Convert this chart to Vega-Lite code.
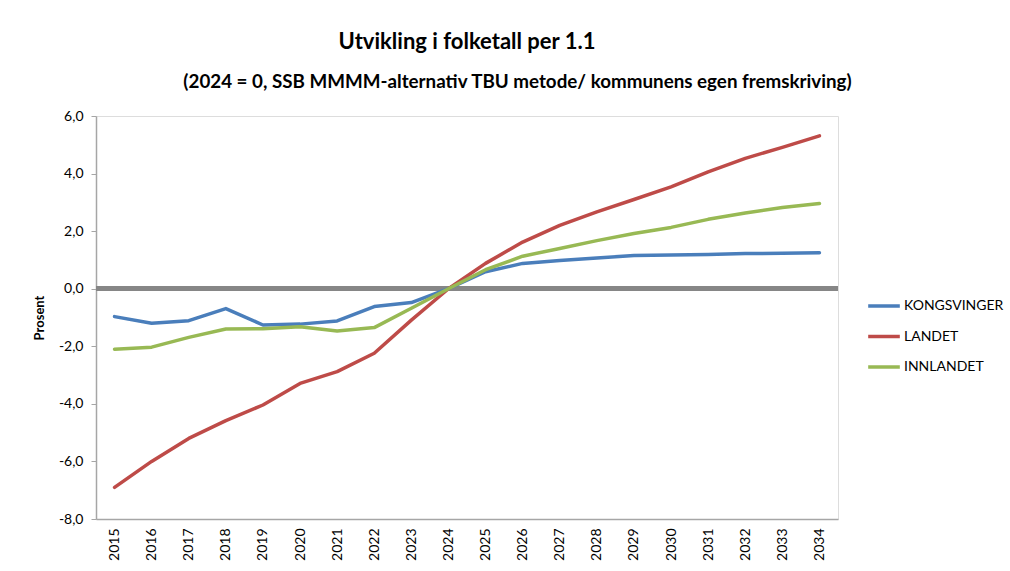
{
  "$schema": "https://vega.github.io/schema/vega-lite/v6.json",
  "width": 742,
  "height": 403,
  "autosize": "none",
  "padding": {"left": 96, "top": 116, "right": 172, "bottom": 52},
  "background": "white",
  "title": {
    "text": "Utvikling i folketall per 1.1",
    "anchor": "middle",
    "frame": "group",
    "font": "Lato",
    "fontSize": 22,
    "fontWeight": "bold",
    "color": "#000000",
    "offset": 18
  },
  "data": {
    "values": [
      {"year": "2015", "series": "KONGSVINGER", "value": -0.97},
      {"year": "2016", "series": "KONGSVINGER", "value": -1.2},
      {"year": "2017", "series": "KONGSVINGER", "value": -1.11},
      {"year": "2018", "series": "KONGSVINGER", "value": -0.69},
      {"year": "2019", "series": "KONGSVINGER", "value": -1.26},
      {"year": "2020", "series": "KONGSVINGER", "value": -1.23},
      {"year": "2021", "series": "KONGSVINGER", "value": -1.12},
      {"year": "2022", "series": "KONGSVINGER", "value": -0.62},
      {"year": "2023", "series": "KONGSVINGER", "value": -0.48},
      {"year": "2024", "series": "KONGSVINGER", "value": 0},
      {"year": "2025", "series": "KONGSVINGER", "value": 0.59},
      {"year": "2026", "series": "KONGSVINGER", "value": 0.88},
      {"year": "2027", "series": "KONGSVINGER", "value": 0.98},
      {"year": "2028", "series": "KONGSVINGER", "value": 1.07},
      {"year": "2029", "series": "KONGSVINGER", "value": 1.15},
      {"year": "2030", "series": "KONGSVINGER", "value": 1.17},
      {"year": "2031", "series": "KONGSVINGER", "value": 1.19},
      {"year": "2032", "series": "KONGSVINGER", "value": 1.22},
      {"year": "2033", "series": "KONGSVINGER", "value": 1.23},
      {"year": "2034", "series": "KONGSVINGER", "value": 1.25},
      {"year": "2015", "series": "LANDET", "value": -6.9},
      {"year": "2016", "series": "LANDET", "value": -6.0},
      {"year": "2017", "series": "LANDET", "value": -5.2},
      {"year": "2018", "series": "LANDET", "value": -4.58},
      {"year": "2019", "series": "LANDET", "value": -4.04},
      {"year": "2020", "series": "LANDET", "value": -3.29},
      {"year": "2021", "series": "LANDET", "value": -2.88},
      {"year": "2022", "series": "LANDET", "value": -2.24},
      {"year": "2023", "series": "LANDET", "value": -1.09},
      {"year": "2024", "series": "LANDET", "value": 0},
      {"year": "2025", "series": "LANDET", "value": 0.88},
      {"year": "2026", "series": "LANDET", "value": 1.62},
      {"year": "2027", "series": "LANDET", "value": 2.2},
      {"year": "2028", "series": "LANDET", "value": 2.67},
      {"year": "2029", "series": "LANDET", "value": 3.1},
      {"year": "2030", "series": "LANDET", "value": 3.54},
      {"year": "2031", "series": "LANDET", "value": 4.06},
      {"year": "2032", "series": "LANDET", "value": 4.53},
      {"year": "2033", "series": "LANDET", "value": 4.91},
      {"year": "2034", "series": "LANDET", "value": 5.31},
      {"year": "2015", "series": "INNLANDET", "value": -2.1},
      {"year": "2016", "series": "INNLANDET", "value": -2.03},
      {"year": "2017", "series": "INNLANDET", "value": -1.69},
      {"year": "2018", "series": "INNLANDET", "value": -1.4},
      {"year": "2019", "series": "INNLANDET", "value": -1.39},
      {"year": "2020", "series": "INNLANDET", "value": -1.32},
      {"year": "2021", "series": "INNLANDET", "value": -1.47},
      {"year": "2022", "series": "INNLANDET", "value": -1.35},
      {"year": "2023", "series": "INNLANDET", "value": -0.68},
      {"year": "2024", "series": "INNLANDET", "value": 0},
      {"year": "2025", "series": "INNLANDET", "value": 0.66},
      {"year": "2026", "series": "INNLANDET", "value": 1.13},
      {"year": "2027", "series": "INNLANDET", "value": 1.4},
      {"year": "2028", "series": "INNLANDET", "value": 1.67},
      {"year": "2029", "series": "INNLANDET", "value": 1.92},
      {"year": "2030", "series": "INNLANDET", "value": 2.13},
      {"year": "2031", "series": "INNLANDET", "value": 2.41},
      {"year": "2032", "series": "INNLANDET", "value": 2.63},
      {"year": "2033", "series": "INNLANDET", "value": 2.82},
      {"year": "2034", "series": "INNLANDET", "value": 2.96}
    ]
  },
  "resolve": {"scale": {"x": "independent"}, "axis": {"x": "independent"}},
  "layer": [
    {
      "mark": {"type": "rule", "color": "#868686", "strokeWidth": 4.5},
      "encoding": {
        "x": {
          "datum": 0,
          "type": "quantitative",
          "scale": {"domain": [0, 1], "nice": false, "zero": false},
          "axis": {
            "orient": "top",
            "title": "(2024 = 0, SSB MMMM-alternativ TBU metode/ kommunens egen fremskriving)",
            "titleFont": "Lato",
            "titleFontSize": 18.8,
            "titleFontWeight": "bold",
            "titleColor": "#000000",
            "titleX": 421,
            "titleAnchor": "middle",
            "titlePadding": 25,
            "labels": false,
            "ticks": false,
            "domain": false,
            "grid": false
          }
        },
        "x2": {"datum": 1},
        "y": {"datum": 0, "type": "quantitative"}
      }
    },
    {
      "mark": {"type": "line", "strokeWidth": 3.5, "strokeCap": "round", "strokeJoin": "round"},
      "encoding": {
        "x": {
          "field": "year",
          "type": "ordinal",
          "title": null,
          "axis": {
            "orient": "bottom",
            "labelAngle": 270,
            "labelFont": "Lato",
            "labelFontSize": 14,
            "labelColor": "#000000",
            "labelPadding": 9,
            "ticks": false,
            "domainColor": "#a6a6a6",
            "domainWidth": 1.5,
            "grid": false
          }
        },
        "y": {
          "field": "value",
          "type": "quantitative",
          "title": "Prosent",
          "scale": {"domain": [-8, 6], "nice": false, "zero": false},
          "axis": {
            "values": [-8, -6, -4, -2, 0, 2, 4, 6],
            "labelExpr": "replace(replace(format(datum.value, '.1f'), '.', ','), '\u2212', '-')",
            "labelFont": "Lato",
            "labelFontSize": 14,
            "labelColor": "#000000",
            "labelPadding": 8,
            "tickSize": 5,
            "tickColor": "#a6a6a6",
            "domainColor": "#a6a6a6",
            "domainWidth": 1.5,
            "gridColor": "#bdbdbd",
            "gridWidth": 1.5,
            "titleFont": "Lato",
            "titleFontSize": 13,
            "titleFontWeight": "bold",
            "titleColor": "#000000",
            "titlePadding": 12
          }
        },
        "color": {
          "field": "series",
          "type": "nominal",
          "scale": {
            "domain": ["KONGSVINGER", "LANDET", "INNLANDET"],
            "range": ["#4a7ebb", "#be4b48", "#98b954"]
          },
          "legend": {
            "title": null,
            "orient": "none",
            "legendX": 770,
            "legendY": 172,
            "symbolType": "stroke",
            "symbolSize": 1000,
            "symbolStrokeWidth": 3.5,
            "labelFont": "Lato",
            "labelFontSize": 14,
            "labelColor": "#000000",
            "labelOffset": 2,
            "rowPadding": 5.5
          }
        }
      }
    }
  ]
}
